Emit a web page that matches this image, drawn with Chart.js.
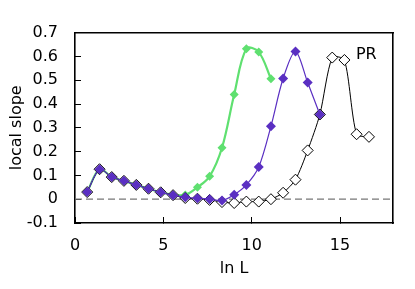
<!DOCTYPE html>
<html>
<head>
<meta charset="utf-8">
<script src="https://cdn.jsdelivr.net/npm/chart.js"></script>
<style>
    html, body { margin: 0; padding: 0; background: #fff; }
    #wrap { width: 415px; height: 289px; }
</style>
</head>
<body>
<div id="wrap"><canvas id="chart" width="415" height="289"></canvas></div>
<script>
// ln L values (steps of ln 2)
const lnL = [0.69, 1.39, 2.08, 2.77, 3.47, 4.16, 4.85, 5.55, 6.24, 6.93, 7.62, 8.32,
             9.01, 9.70, 10.40, 11.09, 11.78, 12.48, 13.17, 13.86, 14.56, 15.25, 15.94, 16.64];

const greenSlope = [0.030, 0.126, 0.093, 0.077, 0.060, 0.044, 0.029, 0.019,
                    0.018, 0.050, 0.096, 0.216, 0.440, 0.632, 0.618, 0.506];
const purpleSlope = [0.030, 0.126, 0.093, 0.077, 0.060, 0.044, 0.029, 0.017,
                     0.008, 0.004, 0.000, -0.005, 0.019, 0.060, 0.135, 0.306,
                     0.507, 0.621, 0.490, 0.356];
const prSlope = [0.030, 0.126, 0.093, 0.077, 0.060, 0.044, 0.029, 0.017,
                 0.005, 0.002, -0.003, -0.012, -0.016, -0.010, -0.010, 0.000,
                 0.027, 0.082, 0.205, 0.356, 0.595, 0.585, 0.273, 0.262];

const xRange = [0, 18];
const yRange = [-0.1, 0.7];
const seriesLabel = "PR";

const FONT = "'DejaVu Sans', Verdana, sans-serif";
const frameBorder = { display: true, color: "#000", width: 1.6 };

function pts(vals) {
    return vals.map((v, i) => ({ x: lnL[i], y: v }));
}

// dashed zero line and the PR label
const notesPlugin = {
    id: "notes",
    beforeDatasetsDraw(chart) {
        const { ctx, chartArea: a, scales } = chart;
        const y0 = scales.y.getPixelForValue(0);
        ctx.save();
        ctx.strokeStyle = "#777";
        ctx.lineWidth = 1.3;
        ctx.setLineDash([7, 4]);
        ctx.beginPath();
        ctx.moveTo(a.left, y0);
        ctx.lineTo(a.right, y0);
        ctx.stroke();
        ctx.restore();
    },
    afterDatasetsDraw(chart) {
        const { ctx, scales } = chart;
        ctx.save();
        ctx.fillStyle = "#000";
        ctx.font = "16px " + FONT;
        ctx.textAlign = "left";
        ctx.textBaseline = "middle";
        ctx.fillText(seriesLabel, scales.x.getPixelForValue(15.9), scales.y.getPixelForValue(0.605));
        ctx.restore();
    }
};

const hiddenTicks = { display: true, color: "rgba(0,0,0,0)", font: { size: 1 }, padding: 0 };

new Chart(document.getElementById("chart"), {
    type: "line",
    data: {
        datasets: [
            {
                data: pts(purpleSlope),
                order: 1,
                borderColor: "#5a2fc2",
                borderWidth: 1.2,
                backgroundColor: "#5a2fc2",
                pointStyle: "rectRot",
                pointRadius: 5,
                pointBorderWidth: 0,
                tension: 0.3
            },
            {
                data: pts(prSlope),
                order: 2,
                borderColor: "#000",
                borderWidth: 1,
                backgroundColor: "#fff",
                pointBackgroundColor: "#fff",
                pointBorderColor: "#000",
                pointStyle: "rectRot",
                pointRadius: 5.5,
                pointBorderWidth: 1,
                tension: 0.25
            },
            {
                data: pts(greenSlope),
                order: 3,
                borderColor: "#5fe070",
                borderWidth: 2.2,
                backgroundColor: "#5fe070",
                pointStyle: "rectRot",
                pointRadius: 4.5,
                pointBorderWidth: 0,
                tension: 0.35
            }
        ]
    },
    options: {
        responsive: false,
        animation: false,
        layout: { padding: { left: 0, top: 10, right: 12, bottom: 0 } },
        plugins: {
            legend: { display: false },
            tooltip: { enabled: false }
        },
        scales: {
            x: {
                type: "linear",
                position: "bottom",
                min: xRange[0],
                max: xRange[1],
                grid: {
                    display: true,
                    drawOnChartArea: false,
                    drawTicks: true,
                    tickLength: -6,
                    tickColor: "#000",
                    tickWidth: 1
                },
                border: frameBorder,
                ticks: {
                    stepSize: 5,
                    includeBounds: false,
                    padding: 19,
                    color: "#000",
                    font: { family: FONT, size: 16 },
                    maxRotation: 0
                },
                title: {
                    display: true,
                    text: "ln L",
                    color: "#000",
                    font: { family: FONT, size: 16 },
                    padding: { top: 0, bottom: 11 }
                },
                afterFit(scale) { scale.height = 66; }
            },
            xTop: {
                type: "linear",
                position: "top",
                display: true,
                min: xRange[0],
                max: xRange[1],
                grid: { display: false, drawTicks: false },
                border: frameBorder,
                ticks: Object.assign({ stepSize: 5 }, hiddenTicks),
                afterFit(scale) { scale.height = 10; }
            },
            y: {
                type: "linear",
                position: "left",
                min: yRange[0],
                max: yRange[1],
                grid: {
                    display: true,
                    drawOnChartArea: false,
                    drawTicks: true,
                    tickLength: -6,
                    tickColor: "#000",
                    tickWidth: 1
                },
                border: frameBorder,
                ticks: {
                    stepSize: 0.1,
                    padding: 23,
                    color: "#000",
                    font: { family: FONT, size: 16 },
                    callback: v => String(Math.round(v * 10) / 10)
                },
                title: {
                    display: true,
                    text: "local slope",
                    color: "#000",
                    font: { family: FONT, size: 16 },
                    padding: { top: 7, bottom: 0 }
                },
                afterFit(scale) { scale.width = 75; }
            },
            yRight: {
                type: "linear",
                position: "right",
                display: true,
                min: yRange[0],
                max: yRange[1],
                grid: { display: false, drawTicks: false },
                border: frameBorder,
                ticks: Object.assign({ stepSize: 0.1 }, hiddenTicks),
                afterFit(scale) { scale.width = 10; }
            }
        }
    },
    plugins: [notesPlugin]
});
</script>
</body>
</html>
